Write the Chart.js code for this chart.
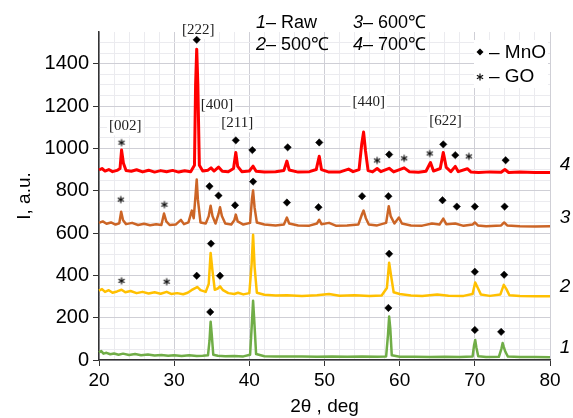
<!DOCTYPE html>
<html>
<head>
<meta charset="utf-8">
<script src="https://cdn.jsdelivr.net/npm/chart.js@4.4.1/dist/chart.umd.min.js"></script>
<style>
  body { margin: 0; background: #fff; }
  canvas { display: block; }
</style>
</head>
<body>
<canvas id="chartjs-0" width="573" height="418"></canvas>
<script>
"use strict";

// XRD curves, [2theta, intensity]
var rawPts = [[20,36],[20.3,42],[20.6,30],[21,34],[21.5,27],[22,31],[22.6,25],[23.2,30],[24,24],[24.8,28],[25.6,22],[26.5,26],[27.4,21],[28.3,24],[29.2,20],[30,23],[31,19],[32,22],[33,19],[33.8,20],[34.5,22],[34.7,90],[34.85,181],[35.0,120],[35.2,25],[35.8,20],[36.8,18],[38,19],[39.2,17],[40.1,25],[40.35,180],[40.5,280],[40.65,190],[40.9,28],[42,18],[43.5,17],[45,16],[47,17],[49,15],[51,16],[53,15],[55,16],[57,15],[58.2,17],[58.45,120],[58.6,205],[58.75,150],[58.95,22],[60,15],[62,15],[64,14],[66,15],[68,14],[69.7,16],[69.9,70],[70.05,95],[70.2,60],[70.45,18],[71.5,14],[73.2,15],[73.55,55],[73.7,80],[73.85,62],[74.05,40],[74.4,16],[76,14],[78,14],[80,13]];

var c500Pts = [[20,328],[20.4,335],[20.8,322],[21.3,330],[21.8,318],[22.4,324],[23.0,332],[23.5,320],[24.2,326],[25,316],[25.8,322],[26.6,314],[27.4,320],[28.2,313],[29,322],[29.6,312],[30.4,316],[31.2,311],[31.8,318],[32.3,330],[32.8,340],[33.1,345],[33.5,330],[34.2,322],[34.6,360],[34.85,506],[35.1,420],[35.4,332],[35.8,338],[36.1,348],[36.5,330],[37.2,316],[38.0,312],[38.5,318],[39.2,310],[40.0,316],[40.3,450],[40.5,592],[40.7,440],[41.0,318],[42,308],[43.5,305],[45,306],[47,303],[49,306],[50.6,312],[52,304],[54,306],[56,303],[57.6,305],[58.3,340],[58.6,460],[58.85,400],[59.2,320],[60,312],[61.5,305],[63,303],[65,310],[66.5,304],[68.5,303],[69.7,312],[70.05,366],[70.4,340],[70.8,310],[72,303],[73.4,310],[73.85,355],[74.2,335],[74.6,306],[76,302],[78,301],[80,301]];

var c600Pts = [[20,648],[20.5,655],[21,644],[21.6,650],[22.2,640],[22.7,646],[22.95,701],[23.2,660],[23.6,642],[24.4,648],[25.2,638],[26,644],[26.8,637],[27.6,642],[28.3,638],[28.65,692],[28.95,655],[29.4,638],[30.2,640],[30.9,662],[31.3,642],[31.9,650],[32.35,706],[32.6,670],[32.85,780],[33.0,853],[33.15,760],[33.5,650],[34.2,645],[34.6,680],[34.85,729],[35.1,680],[35.5,645],[35.9,690],[36.1,722],[36.35,680],[36.8,645],[37.6,640],[38.0,660],[38.2,687],[38.45,655],[39.2,640],[40.1,648],[40.35,760],[40.5,801],[40.7,720],[41.0,650],[42,640],[43.5,636],[44.6,640],[45.0,673],[45.3,645],[46.5,636],[48,635],[49.0,645],[49.3,663],[49.6,642],[50.6,648],[51.5,635],[53,636],[54.5,640],[55.0,690],[55.2,706],[55.5,670],[55.9,640],[57,636],[58.2,648],[58.55,727],[58.8,680],[59.3,645],[59.9,673],[60.3,645],[61.5,636],[63,635],[64.3,645],[65.3,640],[65.8,668],[66.2,642],[67.4,645],[68.5,634],[69.7,640],[70.0,650],[70.4,636],[71.5,632],[73.5,636],[73.9,650],[74.3,636],[76,632],[78,631],[80,632]];

var c700Pts = [[20,898],[20.4,905],[20.8,893],[21.3,900],[21.8,890],[22.4,896],[22.8,905],[23.0,992],[23.25,930],[23.6,895],[24.3,892],[25,899],[25.8,889],[26.6,897],[27.4,888],[28.2,895],[29,890],[29.8,896],[30.6,888],[31.4,894],[32.2,890],[32.7,920],[32.85,1300],[33.0,1469],[33.15,1300],[33.35,920],[33.8,893],[34.5,897],[34.9,908],[35.3,893],[35.9,912],[36.4,892],[37.2,890],[37.9,905],[38.2,981],[38.45,915],[39,890],[40.0,893],[40.5,916],[40.9,892],[42,888],[43.5,890],[44.6,896],[45.0,940],[45.3,898],[46.5,888],[48,890],[48.9,900],[49.3,963],[49.6,900],[50.5,889],[52,888],[53.2,902],[53.8,890],[54.6,900],[54.95,1020],[55.2,1077],[55.45,990],[55.8,895],[56.4,889],[57.0,905],[57.5,890],[58.6,906],[59.2,889],[60.6,908],[61.3,890],[62.5,887],[63.5,892],[64.1,933],[64.5,893],[65.4,905],[65.8,981],[66.2,910],[66.8,890],[67.4,915],[67.8,890],[69.0,904],[69.5,888],[70.5,886],[72,889],[73.5,887],[74.0,900],[74.5,886],[76,888],[78,886],[80,886]];

// phase markers
var mnoPts = [[34.8,227],[58.5,246],[70,142],[73.5,133],
  [33.0,398],[34.9,550],[36.1,398],[58.6,502],[70,417],[73.9,403],
  [34.7,821],[35.9,777],[38.1,731],[40.5,843],[45,744],[49.2,722],[55.0,774],[58.5,774],[65.7,755],[67.6,725],[70.0,725],[73.96,725],
  [33,1513],[38.2,1038],[40.4,992],[45.1,1005],[49.3,1028],[58.6,971],[65.8,1019],[67.4,968],[74.1,944]];
var goPts = [[23,374],[29,370],[22.9,758],[28.7,734],[23,1027],[57.0,943],[60.6,953],[64.0,976],[69.2,962]];

// hkl labels and curve numbers
var hklText = ["[002]", "[222]", "[400]", "[211]", "[440]", "[622]"];
var hklX = [23.5, 33.2, 35.7, 38.4, 55.9, 66.1];
var hklY = [1104, 1560, 1204, 1118, 1218, 1128];
var curveNames = ["1", "2", "3", "4"];
var curveNameY = [57, 346, 673, 924];
var curveColors = ["#70AD47", "#FFC000", "#CC6526", "#FF0000"];

var sans = "'Liberation Sans', Arial, sans-serif";

function toXY(list) {
    return list.map(function (p) { return {x: p[0], y: p[1]}; });
}

function curve(pts, color, width) {
    return {data: toXY(pts), showLine: true, borderColor: color, borderWidth: width,
        borderJoinStyle: "round", pointRadius: 0, tension: 0, clip: false};
}

// six-armed asterisk, like the text glyph
function drawStar(c, x, y, r) {
    c.beginPath();
    for (var k = 0; k < 3; k++) {
        var a = Math.PI / 2 + k * Math.PI / 3;
        c.moveTo(x - r * Math.cos(a), y - r * Math.sin(a));
        c.lineTo(x + r * Math.cos(a), y + r * Math.sin(a));
    }
    c.stroke();
}
var starImg = document.createElement("canvas");
starImg.width = 10;
starImg.height = 10;
var sctx = starImg.getContext("2d");
sctx.strokeStyle = "#111";
sctx.lineWidth = 1.2;
drawStar(sctx, 5, 5, 3.6);

var labelsPlugin = {
    id: "labels",
    beforeDatasetsDraw: function (chart) {
        var c = chart.ctx, sx = chart.scales.x, sy = chart.scales.y;
        c.save();
        c.font = "15px 'Liberation Serif', 'Times New Roman', serif";
        c.fillStyle = "#fff";
        for (var i = 0; i < hklText.length; i++) {
            var w = c.measureText(hklText[i]).width;
            c.fillRect(sx.getPixelForValue(hklX[i]) - w / 2 - 2, sy.getPixelForValue(hklY[i]) - 9, w + 4, 18);
        }
        // white box behind phase legend
        c.fillRect(474, 40, 74, 48);
        c.restore();
    },
    afterDatasetsDraw: function (chart) {
        var c = chart.ctx, sx = chart.scales.x, sy = chart.scales.y;
        c.save();
        c.fillStyle = "#222";
        c.textAlign = "center";
        c.textBaseline = "middle";
        c.font = "15px 'Liberation Serif', 'Times New Roman', serif";
        for (var i = 0; i < hklText.length; i++) {
            c.fillText(hklText[i], sx.getPixelForValue(hklX[i]), sy.getPixelForValue(hklY[i]));
        }
        c.fillStyle = "#000";
        c.font = "italic 19px " + sans;
        for (var j = 0; j < curveNames.length; j++) {
            c.fillText(curveNames[j], sx.getPixelForValue(82), sy.getPixelForValue(curveNameY[j]));
        }

        // sample legend
        c.textAlign = "left";
        c.textBaseline = "alphabetic";
        var rows = [["1", "– Raw", 256, 28], ["2", "– 500℃", 256, 50], ["3", "– 600℃", 353, 28], ["4", "– 700℃", 353, 50]];
        rows.forEach(function (r) {
            c.font = "italic 18px " + sans;
            c.fillText(r[0], r[2], r[3]);
            var w = c.measureText(r[0]).width;
            c.font = "18px " + sans;
            c.fillText(r[1], r[2] + w, r[3]);
        });

        // phase legend
        c.font = "19px " + sans;
        c.fillText("– MnO", 489, 58);
        c.fillText("– GO", 489, 82);
        c.beginPath();
        c.moveTo(480, 48.5); c.lineTo(483.5, 52); c.lineTo(480, 55.5); c.lineTo(476.5, 52);
        c.closePath();
        c.fill();
        c.strokeStyle = "#111";
        c.lineWidth = 1.2;
        drawStar(c, 480, 77, 3.6);
        c.restore();
    }
};

var ctx0 = document.getElementById("chartjs-0");
var myChart = new Chart(ctx0, {
    type: "scatter",
    data: {
        datasets: [
            curve(rawPts, curveColors[0], 2.5),
            curve(c500Pts, curveColors[1], 2.5),
            curve(c600Pts, curveColors[2], 2.5),
            curve(c700Pts, curveColors[3], 3),
            {data: toXY(mnoPts), pointStyle: "rectRot", pointRadius: 3.7, backgroundColor: "#000", borderColor: "#000", borderWidth: 0.5, clip: false},
            {data: toXY(goPts), pointStyle: starImg, clip: false}
        ]
    },
    options: {
        responsive: false,
        animation: false,
        devicePixelRatio: 1,
        layout: {padding: {top: 32, right: 23, left: 0, bottom: 0}},
        plugins: {legend: {display: false}, tooltip: {enabled: false}},
        scales: {
            x: {
                type: "linear", min: 20, max: 80,
                afterFit: function (s) { s.height = 58; },
                border: {color: "#333", width: 1.5},
                grid: {
                    color: function (c) { return c.tick && c.tick.value % 10 === 0 ? "#cfcfd6" : "#ebebef"; },
                    tickColor: function (c) { return c.tick && c.tick.value % 10 === 0 ? "#333" : "rgba(0,0,0,0)"; },
                    tickLength: 6
                },
                ticks: {
                    stepSize: 2, autoSkip: false, maxRotation: 0, padding: 3, color: "#000",
                    font: {family: sans, size: 19},
                    callback: function (v) { return v % 10 === 0 ? v : ""; }
                },
                title: {display: true, text: "2θ , deg", color: "#000", font: {family: sans, size: 19}, padding: {top: 0, bottom: 0}}
            },
            y: {
                min: 0, max: 1550,
                afterFit: function (s) { s.width = 99; },
                border: {color: "#333", width: 1.5},
                grid: {
                    color: function (c) {
                        if (!c.tick || c.tick.value === 1550) return "rgba(0,0,0,0)";
                        return c.tick.value % 200 === 0 ? "#cfcfd6" : "#ebebef";
                    },
                    tickColor: function (c) { return c.tick && c.tick.value % 200 === 0 ? "#333" : "rgba(0,0,0,0)"; },
                    tickLength: 6
                },
                ticks: {
                    stepSize: 50, autoSkip: false, padding: 4, color: "#000",
                    font: {family: sans, size: 20},
                    callback: function (v) { return v % 200 === 0 ? v : ""; }
                },
                title: {display: true, text: "I, a.u.", color: "#000", font: {family: sans, size: 19}, padding: {top: 13, bottom: 0}}
            }
        }
    },
    plugins: [labelsPlugin]
});
</script>
</body>
</html>
